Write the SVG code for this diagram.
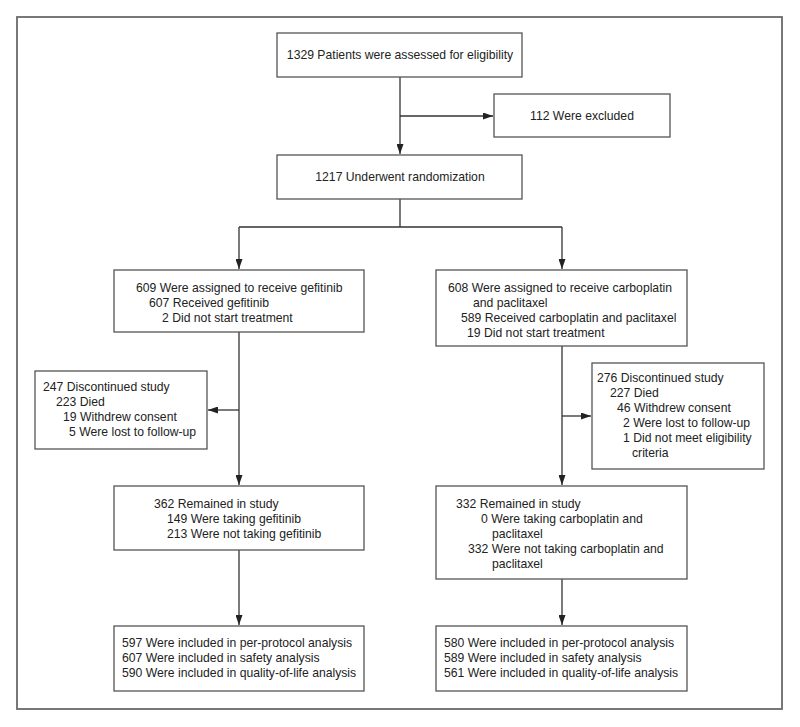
<svg xmlns="http://www.w3.org/2000/svg" width="800" height="727" viewBox="0 0 800 727">
<style>
.frame{fill:none;stroke:#6a6a6a;stroke-width:1.8}
.box{fill:#fff;stroke:#555;stroke-width:1.3}
.ln{fill:none;stroke:#333;stroke-width:1.3}
text{font-family:"Liberation Sans",Arial,sans-serif;font-size:12.2px;fill:#222}
.c{text-anchor:middle}
</style>
<defs>
<marker id="ah" viewBox="0 0 10 7" refX="10" refY="3.5" markerWidth="10" markerHeight="7" markerUnits="userSpaceOnUse" orient="auto">
<path d="M0,0 L10,3.5 L0,7 Z" fill="#222"/>
</marker>
</defs>
<rect width="800" height="727" fill="#fff"/>
<rect class="frame" x="17" y="17" width="765" height="692"/>
<g id="connectors">
<path class="ln" d="M400,77 V154" marker-end="url(#ah)"/>
<path class="ln" d="M400,116 H493" marker-end="url(#ah)"/>
<path class="ln" d="M400,199 V227 M239,227 H562"/>
<path class="ln" d="M239,227 V269" marker-end="url(#ah)"/>
<path class="ln" d="M562,227 V269" marker-end="url(#ah)"/>
<path class="ln" d="M239,332 V485" marker-end="url(#ah)"/>
<path class="ln" d="M239,410 H208" marker-end="url(#ah)"/>
<path class="ln" d="M562,346 V485" marker-end="url(#ah)"/>
<path class="ln" d="M562,416 H591" marker-end="url(#ah)"/>
<path class="ln" d="M239,550 V625" marker-end="url(#ah)"/>
<path class="ln" d="M562,579 V625" marker-end="url(#ah)"/>
</g>
<g id="assessed">
<rect class="box" x="277" y="33" width="245" height="44"/>
<text class="c" x="400" y="59">1329 Patients were assessed for eligibility</text>
</g>
<g id="excluded">
<rect class="box" x="494" y="94" width="176" height="43"/>
<text class="c" x="582" y="120">112 Were excluded</text>
</g>
<g id="randomized">
<rect class="box" x="277" y="155" width="245" height="44"/>
<text class="c" x="400" y="181">1217 Underwent randomization</text>
</g>
<g id="gefitinib">
<rect class="box" x="114" y="270" width="250" height="62"/>
<text x="136" y="292">609 Were assigned to receive gefitinib</text>
<text x="149" y="307">607 Received gefitinib</text>
<text x="162" y="322">2 Did not start treatment</text>
</g>
<g id="carboplatin">
<rect class="box" x="436" y="270" width="251" height="76"/>
<text x="448" y="292">608 Were assigned to receive carboplatin</text>
<text x="473" y="307">and paclitaxel</text>
<text x="461" y="322">589 Received carboplatin and paclitaxel</text>
<text x="467" y="337">19 Did not start treatment</text>
</g>
<g id="discont-left">
<rect class="box" x="35" y="371" width="172" height="78"/>
<text x="43" y="391">247 Discontinued study</text>
<text x="56" y="406">223 Died</text>
<text x="63" y="421">19 Withdrew consent</text>
<text x="69" y="436">5 Were lost to follow-up</text>
</g>
<g id="discont-right">
<rect class="box" x="592" y="363" width="172" height="106"/>
<text x="597" y="382">276 Discontinued study</text>
<text x="610" y="397">227 Died</text>
<text x="617" y="412">46 Withdrew consent</text>
<text x="623" y="427">2 Were lost to follow-up</text>
<text x="623" y="442">1 Did not meet eligibility</text>
<text x="632" y="457">criteria</text>
</g>
<g id="remained-left">
<rect class="box" x="114" y="486" width="250" height="64"/>
<text x="154" y="508">362 Remained in study</text>
<text x="167" y="523">149 Were taking gefitinib</text>
<text x="167" y="538">213 Were not taking gefitinib</text>
</g>
<g id="remained-right">
<rect class="box" x="436" y="486" width="251" height="93"/>
<text x="456" y="508">332 Remained in study</text>
<text x="481" y="523">0 Were taking carboplatin and</text>
<text x="492" y="538">paclitaxel</text>
<text x="468" y="553">332 Were not taking carboplatin and</text>
<text x="492" y="568">paclitaxel</text>
</g>
<g id="analysis-left">
<rect class="box" x="114" y="626" width="250" height="65"/>
<text x="122" y="647">597 Were included in per-protocol analysis</text>
<text x="122" y="662">607 Were included in safety analysis</text>
<text x="122" y="677">590 Were included in quality-of-life analysis</text>
</g>
<g id="analysis-right">
<rect class="box" x="436" y="626" width="251" height="65"/>
<text x="444" y="647">580 Were included in per-protocol analysis</text>
<text x="444" y="662">589 Were included in safety analysis</text>
<text x="444" y="677">561 Were included in quality-of-life analysis</text>
</g>
</svg>
